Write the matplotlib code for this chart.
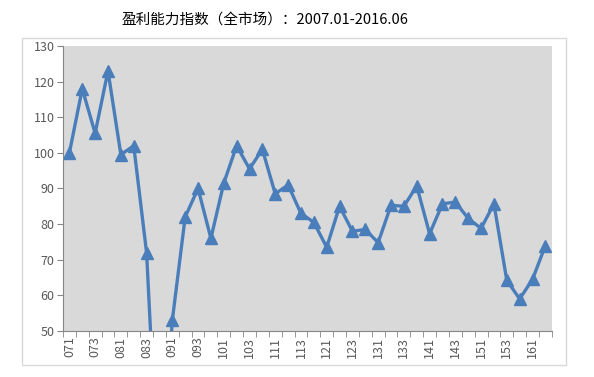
import numpy as np
import matplotlib
matplotlib.use('Agg')
import matplotlib.pyplot as plt
from matplotlib.patches import Rectangle

plt.rcParams['font.family'] = ['Noto Sans CJK SC', 'DejaVu Sans']

# quarterly labels 2007Q1 .. 2016Q2
quarters = ['071', '072', '073', '074', '081', '082', '083', '084',
            '091', '092', '093', '094', '101', '102', '103', '104',
            '111', '112', '113', '114', '121', '122', '123', '124',
            '131', '132', '133', '134', '141', '142', '143', '144',
            '151', '152', '153', '154', '161', '162']
index_values = [100, 118, 105.5, 123, 99.5, 102, 72, 0,
                53, 82, 90, 76, 91.5, 102, 95.5, 101,
                88.5, 91, 83, 80.5, 73.5, 85, 78, 78.5,
                74.8, 85.3, 85, 90.7, 77.3, 85.7, 86.2, 81.6,
                78.8, 85.7, 64.2, 59, 64.5, 74]
title = '盈利能力指数（全市场）：2007.01-2016.06'

line_color = '#4A7EBB'
label_color = '#595959'
spine_color = '#868686'

fig = plt.figure(figsize=(5.94, 3.77), dpi=100)
fig.patches.append(Rectangle((0.037, 0.032), 0.916, 0.867, transform=fig.transFigure,
                             fill=False, edgecolor='#D9D9D9', linewidth=1))
fig.text(0.446, 0.947, title, ha='center', va='center', fontsize=10.5, color='black')

ax = fig.add_axes([0.106, 0.122, 0.823, 0.756])
ax.set_facecolor('#D9D9D9')

x = np.arange(len(quarters))
ax.plot(x, index_values, color=line_color, linewidth=2.4, marker='^',
        markersize=8, markerfacecolor=line_color, markeredgecolor=line_color,
        clip_on=True)

ax.set_xlim(-0.5, len(quarters) - 0.5)
ax.set_ylim(50, 130)
ax.set_yticks(np.arange(50, 131, 10))

# labels on every other quarter, tick marks on category boundaries
ax.set_xticks(x[::2])
ax.set_xticklabels(quarters[::2], rotation=90)
ax.set_xticks(np.arange(-0.5, len(quarters), 1), minor=True)
ax.tick_params(axis='x', which='major', length=0, pad=4, labelsize=9, labelcolor=label_color)
ax.tick_params(axis='x', which='minor', length=4, color=spine_color, direction='out')
ax.tick_params(axis='y', length=4, color=spine_color, labelsize=9, labelcolor=label_color, pad=2)

for side in ['top', 'right']:
    ax.spines[side].set_visible(False)
for side in ['left', 'bottom']:
    ax.spines[side].set_color(spine_color)
    ax.spines[side].set_linewidth(0.8)

fig.savefig('out.png', dpi=100)
